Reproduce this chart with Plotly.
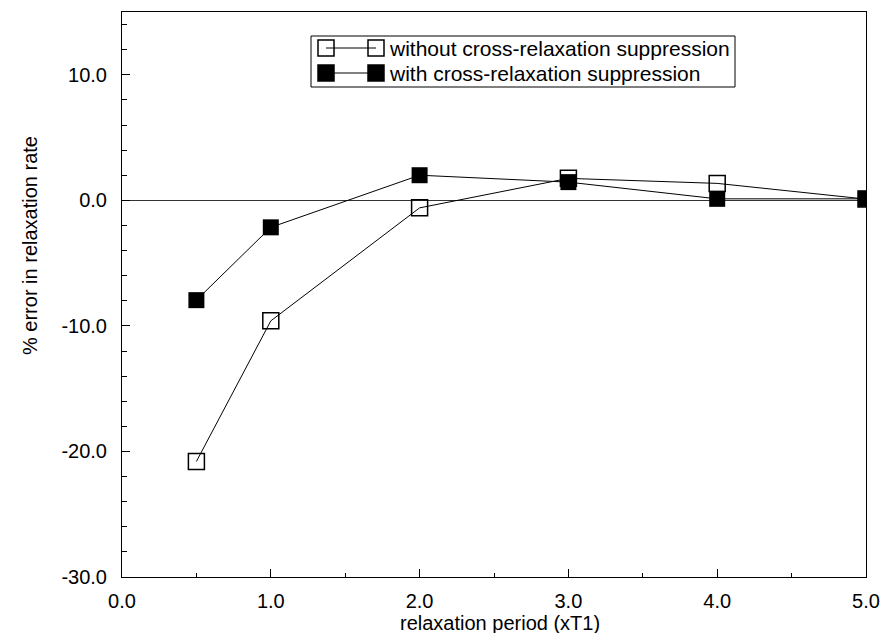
import plotly.graph_objects as go

# ---- data ----
periods = [0.5, 1.0, 2.0, 3.0, 4.0, 5.0]
err_without = [-20.8, -9.6, -0.6, 1.75, 1.35, 0.1]
err_with = [-7.95, -2.15, 2.0, 1.45, 0.12, 0.12]
name_without = "without cross-relaxation suppression"
name_with = "with cross-relaxation suppression"
x_tickvals = [0, 1, 2, 3, 4, 5]
x_ticktext = ["0.0", "1.0", "2.0", "3.0", "4.0", "5.0"]
y_tickvals = [-30, -20, -10, 0, 10]
y_ticktext = ["-30.0", "-20.0", "-10.0", "0.0", "10.0"]

W, H = 881, 633
L, R, T, B = 122, 866, 12, 577
FONT = "Liberation Sans, Arial, Helvetica, sans-serif"


def px(x):
    return (x - L) / (R - L)


def py(y):
    return (B - y) / (B - T)


fig = go.Figure()
fig.add_trace(go.Scatter(
    x=periods, y=err_without, mode="lines+markers", name=name_without,
    line=dict(color="black", width=1),
    marker=dict(symbol="square-open", size=16, color="black", line=dict(width=1.5, color="black")),
    showlegend=False,
))
fig.add_trace(go.Scatter(
    x=periods, y=err_with, mode="lines+markers", name=name_with,
    line=dict(color="black", width=1),
    marker=dict(symbol="square", size=16, color="black"),
    showlegend=False,
))

axis_common = dict(
    showline=True, linecolor="black", linewidth=1, mirror=True,
    ticks="inside", tickcolor="black", ticklen=8, tickwidth=1,
    showgrid=False, automargin=False,
    tickfont=dict(family=FONT, size=20, color="black"),
)

fig.update_xaxes(
    range=[0, 5], tickvals=x_tickvals, ticktext=x_ticktext,
    minor=dict(dtick=0.5, ticks="inside", ticklen=4, tickcolor="black"),
    zeroline=False, ticklabelstandoff=6, **axis_common,
)
fig.update_yaxes(
    range=[-30, 15], tickvals=y_tickvals, ticktext=y_ticktext,
    minor=dict(dtick=2, ticks="inside", ticklen=5, tickcolor="black"),
    zeroline=True, zerolinecolor="#333333", zerolinewidth=1,
    ticklabelstandoff=10, **axis_common,
)

shapes = []
annotations = []
# custom legend box
shapes.append(dict(type="rect", xref="paper", yref="paper",
                   x0=px(311), x1=px(735), y0=py(87), y1=py(36),
                   line=dict(color="black", width=1), fillcolor="white"))
rows = [(48, name_without, False), (73, name_with, True)]
for yy, label, filled in rows:
    shapes.append(dict(type="line", xref="paper", yref="paper",
                       x0=px(326), x1=px(376), y0=py(yy), y1=py(yy),
                       line=dict(color="black", width=1)))
    for cx in (326, 376):
        shapes.append(dict(type="rect", xref="paper", yref="paper",
                           x0=px(cx - 8), x1=px(cx + 8), y0=py(yy + 8), y1=py(yy - 8),
                           line=dict(color="black", width=1.5),
                           fillcolor="black" if filled else "rgba(0,0,0,0)"))
    annotations.append(dict(text=label, xref="paper", yref="paper",
                            x=px(387), y=py(yy), xanchor="left", yanchor="middle",
                            showarrow=False, font=dict(family=FONT, size=21, color="black")))

annotations.append(dict(text="relaxation period (xT1)", xref="paper", yref="paper",
                        x=px(500), y=py(623), xanchor="center", yanchor="middle",
                        showarrow=False, font=dict(family=FONT, size=20, color="black")))
annotations.append(dict(text="% error in relaxation rate", xref="paper", yref="paper",
                        x=px(30), y=py(246), xanchor="center", yanchor="middle", textangle=-90,
                        showarrow=False, font=dict(family=FONT, size=20, color="black")))

fig.update_layout(
    width=W, height=H,
    margin=dict(l=L, r=W - R, t=T, b=H - B),
    paper_bgcolor="white", plot_bgcolor="white",
    shapes=shapes, annotations=annotations,
    showlegend=False,
)

fig.write_html("out.html")
